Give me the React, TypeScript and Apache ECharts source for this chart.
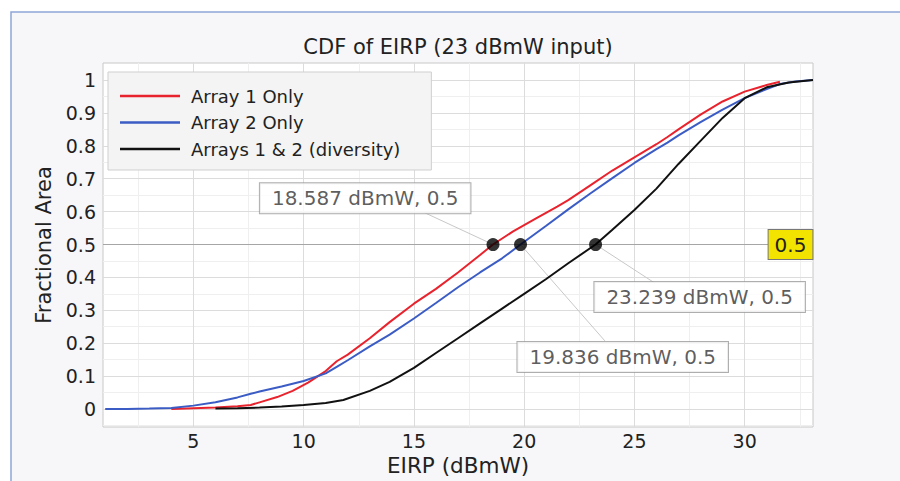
import React, { useEffect, useRef } from "react";
import * as echarts from "echarts";

const FONT = "'DejaVu Sans', sans-serif";

const TITLE = "CDF of EIRP (23 dBmW input)";
const X_NAME = "EIRP (dBmW)";
const Y_NAME = "Fractional Area";
const SERIES_NAMES = ["Array 1 Only", "Array 2 Only", "Arrays 1 & 2 (diversity)"];

const X_TICKS = [5, 10, 15, 20, 25, 30];
const X_MINOR = [2.5, 7.5, 12.5, 17.5, 22.5, 27.5, 32.5];
const Y_TICKS = [0, 0.1, 0.2, 0.3, 0.4, 0.5, 0.6, 0.7, 0.8, 0.9, 1];
const Y_MINOR = [-0.05, 0.05, 0.15, 0.25, 0.35, 0.45, 0.55, 0.65, 0.75, 0.85, 0.95];

const redX = [4, 5, 6, 7, 7.6, 8, 8.8, 9.5, 10.2, 11, 11.5, 12, 13, 13.9, 15, 16, 17, 18, 18.587, 19.5, 20.5, 21.5, 22, 23, 24, 25, 26, 26.5, 27, 28, 29, 30, 31, 31.6];
const redY = [0, 0.002, 0.004, 0.008, 0.012, 0.02, 0.036, 0.055, 0.08, 0.115, 0.145, 0.165, 0.215, 0.264, 0.32, 0.365, 0.415, 0.468, 0.5, 0.54, 0.578, 0.615, 0.635, 0.68, 0.725, 0.765, 0.805, 0.827, 0.85, 0.895, 0.935, 0.965, 0.985, 0.995];

const blueX = [1, 2, 3, 4, 5, 6, 7, 7.6, 8, 9, 10, 11, 11.5, 12, 13, 13.9, 15, 16, 17, 18, 19, 19.836, 21, 22, 23, 24, 25, 26, 26.5, 27, 28, 29, 30, 31, 31.6, 32.3, 33.1];
const blueY = [0, 0, 0.001, 0.003, 0.01, 0.02, 0.035, 0.046, 0.053, 0.068, 0.085, 0.108, 0.128, 0.148, 0.19, 0.226, 0.275, 0.322, 0.37, 0.415, 0.458, 0.5, 0.557, 0.607, 0.655, 0.702, 0.748, 0.79, 0.81, 0.832, 0.872, 0.91, 0.945, 0.973, 0.988, 0.996, 1.0];

const blackX = [6, 7, 8, 9, 10, 11, 11.8, 13, 13.9, 15, 16, 17, 18, 19, 20, 21, 22, 23.239, 24, 25, 26, 27, 28, 29, 30, 31, 32, 33.1];
const blackY = [0.001, 0.002, 0.004, 0.007, 0.012, 0.018, 0.027, 0.055, 0.082, 0.125, 0.17, 0.215, 0.26, 0.305, 0.35, 0.395, 0.443, 0.5, 0.545, 0.605, 0.67, 0.745, 0.815, 0.885, 0.945, 0.978, 0.993, 1.0];

const MEDIAN_X = [18.587, 19.836, 23.239];
const MEDIAN_Y = 0.5;
const ANN_TEXT = ["18.587 dBmW, 0.5", "23.239 dBmW, 0.5", "19.836 dBmW, 0.5"];
const ANN_POS = [[12.79, 0.641], [27.96, 0.34], [24.47, 0.158]];
const LEADER_FROM = [[18.587, 0.5], [23.239, 0.5], [19.836, 0.5]];
const LEADER_TO = [[15.51, 0.596], [25.92, 0.383], [23.66, 0.207]];
const LEVEL_LABEL_POS = [32.08, 0.5];

const zip = (xs: number[], ys: number[]) => xs.map((x, i) => [x, ys[i]]);

export default function App() {
  const ref = useRef<HTMLDivElement>(null);
  useEffect(() => {
    document.body.style.margin = "0";
    const chart = echarts.init(ref.current!, null, { renderer: "svg" });
    const gridLines: any[] = [
      ...X_MINOR.map((v) => ({ xAxis: v, lineStyle: { color: "#efefef", width: 1, type: "solid" } })),
      ...Y_MINOR.map((v) => ({ yAxis: v, lineStyle: { color: "#efefef", width: 1, type: "solid" } })),
      ...X_TICKS.map((v) => ({ xAxis: v, lineStyle: { color: "#dcdcdc", width: 1, type: "solid" } })),
      ...Y_TICKS.map((v) => ({ yAxis: v, lineStyle: { color: "#dcdcdc", width: 1, type: "solid" } })),
      { yAxis: MEDIAN_Y, lineStyle: { color: "#a6a6a6", width: 1.2, type: "solid" } },
      ...LEADER_FROM.map((p, i) => [
        { coord: p, lineStyle: { color: "#c8c8c8", width: 1, type: "solid" } },
        { coord: LEADER_TO[i] },
      ]),
    ];
    const option: any = {
      animation: false,
      textStyle: { fontFamily: FONT },
      graphic: [
        {
          type: "rect",
          z: -10,
          silent: true,
          shape: { x: 11, y: 12, width: 900, height: 480 },
          style: { fill: "#f7f7f9", stroke: "#8ea6d6", lineWidth: 1.5 },
        },
        {
          type: "text",
          x: 458,
          y: 47,
          z: 10,
          style: {
            text: TITLE,
            fontFamily: FONT,
            fontSize: 21,
            fill: "#222",
            textAlign: "center",
            textVerticalAlign: "middle",
          },
        },
      ],
      grid: {
        left: 103,
        top: 63,
        right: 87,
        bottom: 54,
        outerBoundsMode: "none",
        containLabel: false,
        show: true,
        backgroundColor: "#ffffff",
        borderColor: "#c8c8c8",
        borderWidth: 1,
      },
      legend: {
        data: SERIES_NAMES,
        orient: "vertical",
        left: 108,
        top: 72,
        z: 10,
        backgroundColor: "#f4f4f4",
        borderColor: "#cfcfcf",
        borderWidth: 1,
        padding: [15, 31, 12, 12],
        icon: "rect",
        itemWidth: 60,
        itemHeight: 2.5,
        itemGap: 8.5,
        textStyle: { fontFamily: FONT, fontSize: 18, color: "#222", padding: [0, 0, 0, 6] },
      },
      xAxis: {
        type: "value",
        min: 0.9,
        max: 33.1,
        name: X_NAME,
        nameLocation: "middle",
        nameGap: 27,
        nameTextStyle: { fontFamily: FONT, fontSize: 21.5, color: "#222" },
        axisLine: { show: false },
        axisTick: { show: false },
        splitLine: { show: false },
        axisLabel: {
          customValues: X_TICKS,
          fontFamily: FONT,
          fontSize: 19,
          color: "#222",
          margin: 4,
        },
      },
      yAxis: {
        type: "value",
        min: -0.055,
        max: 1.052,
        name: Y_NAME,
        nameLocation: "middle",
        nameGap: 41,
        nameTextStyle: { fontFamily: FONT, fontSize: 21, color: "#222" },
        axisLine: { show: false },
        axisTick: { show: false },
        splitLine: { show: false },
        axisLabel: {
          customValues: Y_TICKS,
          fontFamily: FONT,
          fontSize: 19,
          color: "#222",
          margin: 7,
          formatter: (v: number) => String(+v.toFixed(2)),
        },
      },
      series: [
        {
          name: "grid",
          type: "line",
          z: 1,
          data: [[-100, -100]],
          showSymbol: false,
          symbol: "none",
          lineStyle: { opacity: 0 },
          silent: true,
          markLine: {
            z: 1,
            silent: true,
            symbol: ["none", "none"],
            label: { show: false },
            data: gridLines,
          },
        },
        {
          name: SERIES_NAMES[0],
          type: "line",
          z: 3,
          symbol: "none",
          data: zip(redX, redY),
          color: "#e8232d",
          lineStyle: { color: "#e8232d", width: 2 },
        },
        {
          name: SERIES_NAMES[1],
          type: "line",
          z: 3,
          symbol: "none",
          data: zip(blueX, blueY),
          color: "#3b5cc4",
          lineStyle: { color: "#3b5cc4", width: 2 },
        },
        {
          name: SERIES_NAMES[2],
          type: "line",
          z: 3,
          symbol: "none",
          data: zip(blackX, blackY),
          color: "#111111",
          lineStyle: { color: "#111111", width: 2 },
        },
        {
          name: "annotations",
          type: "scatter",
          z: 4,
          symbolSize: 1,
          itemStyle: { color: "rgba(0,0,0,0)" },
          silent: true,
          data: ANN_POS.map((p, i) => ({ value: p, name: ANN_TEXT[i] })),
          label: {
            show: true,
            position: "inside",
            formatter: (p: any) => p.name,
            fontFamily: FONT,
            fontSize: 20,
            color: "#333",
            backgroundColor: "#ffffff",
            borderColor: "#9a9a9a",
            borderWidth: 1,
            padding: [5, 12, 5, 12],
          },
        },
        {
          name: "medians",
          type: "scatter",
          z: 5,
          symbolSize: 13,
          itemStyle: { color: "#000000" },
          data: MEDIAN_X.map((x) => [x, MEDIAN_Y]),
          markPoint: {
            z: 6,
            silent: true,
            symbol: "rect",
            symbolSize: 1,
            itemStyle: { color: "rgba(0,0,0,0)" },
            data: [
              {
                coord: LEVEL_LABEL_POS,
                label: {
                  show: true,
                  position: "inside",
                  formatter: "0.5",
                  fontFamily: FONT,
                  fontSize: 20,
                  color: "#222",
                  backgroundColor: "#f2e400",
                  borderColor: "#777",
                  borderWidth: 1,
                  padding: [5, 6, 4, 6],
                },
              },
            ],
          },
        },
      ],
    };
    chart.setOption(option);
    return () => chart.dispose();
  }, []);
  return <div ref={ref} style={{ width: 900, height: 481 }} />;
}
